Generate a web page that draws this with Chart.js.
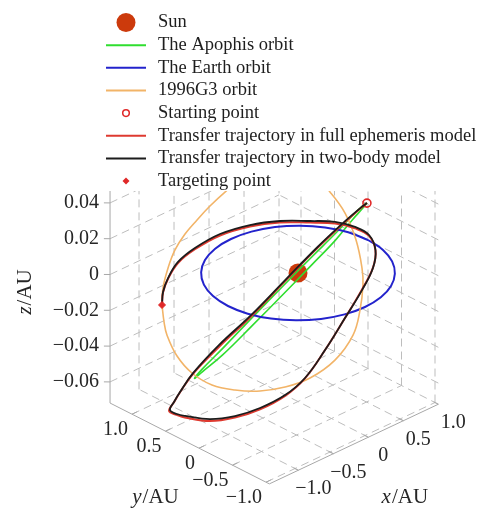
<!DOCTYPE html>
<html>
<head>
<meta charset="utf-8">
<script src="https://cdn.jsdelivr.net/npm/chart.js@4.4.0/dist/chart.umd.min.js"></script>
<style>
  body { margin: 0; background: #fff; }
  #wrap { width: 484px; height: 509px; }
</style>
</head>
<body>
<div id="wrap"><canvas id="orbitChart"></canvas></div>
<script>
// axis ranges and ticks (AU)
const xLim = [-1.414, 1.0]
const yLim = [-1.05, 1.328]
const zLim = [-0.0718, 0.047]
const xTicks = [-1, -0.5, 0, 0.5, 1]
const yTicks = [-1, -0.5, 0, 0.5, 1]
const zTicks = [-0.06, -0.04, -0.02, 0, 0.02, 0.04]
const xTickLabels = ['−1.0', '−0.5', '0', '0.5', '1.0']
const yTickLabels = ['−1.0', '−0.5', '0', '0.5', '1.0']
const zTickLabels = ['−0.06', '−0.04', '−0.02', '0', '0.02', '0.04']

const legendLabels = ['Sun', 'The Apophis orbit', 'The Earth orbit', '1996G3 orbit', 'Starting point',
    'Transfer trajectory in full ephemeris model', 'Transfer trajectory in two-body model', 'Targeting point']

// single points [x, y, z]
const sunPos = [0, 0, 0]
const startPos = [0.512, -0.494, 0.039]
const targetPos = [-1.108, 0.872, -0.014]

// Earth orbit
const earthX = [1, 0.966, 0.866, 0.707, 0.5, 0.259, 0, -0.259, -0.5, -0.707, -0.866, -0.966, -1, -0.966, -0.866, -0.707, -0.5, -0.259, 0, 0.259, 0.5, 0.707, 0.866, 0.966, 1]
const earthY = [0, 0.259, 0.5, 0.707, 0.866, 0.966, 1, 0.966, 0.866, 0.707, 0.5, 0.259, 0, -0.259, -0.5, -0.707, -0.866, -0.966, -1, -0.966, -0.866, -0.707, -0.5, -0.259, 0]
const earthZ = [0, 0, 0, 0, 0, 0, 0, 0, 0, 0, 0, 0, 0, 0, 0, 0, 0, 0, 0, 0, 0, 0, 0, 0, 0]

// Apophis orbit
const apophisX = [0.512, 0.657, 0.739, 0.746, 0.668, 0.495, 0.230, -0.105, -0.461, -0.768, -0.961, -1.006, -0.912, -0.716, -0.462, -0.188, 0.077, 0.315, 0.512]
const apophisY = [-0.494, -0.292, -0.052, 0.214, 0.485, 0.733, 0.921, 1.003, 0.945, 0.742, 0.428, 0.070, -0.262, -0.520, -0.684, -0.753, -0.736, -0.646, -0.494]
const apophisZ = [0.0391, 0.0313, 0.0199, 0.0045, -0.0123, -0.0300, -0.0465, -0.0588, -0.0630, -0.0588, -0.0458, -0.0284, -0.0079, 0.0109, 0.0259, 0.0360, 0.0425, 0.0430, 0.0391]

// 1996G3 orbit
const g3X = [-1.108, -0.877, -0.724, -0.577, -0.409, -0.240, -0.082, 0.079, 0.266, 0.460, 0.611, 0.697, 0.734, 0.732, 0.676, 0.567, 0.484, 0.302, 0.121, -0.187, -0.500, -0.750, -0.953, -1.116, -1.224, -1.273, -1.264, -1.204, -1.162, -1.108]
const g3Y = [0.872, 1.099, 1.183, 1.233, 1.259, 1.256, 1.228, 1.172, 1.068, 0.898, 0.684, 0.474, 0.290, 0.063, -0.160, -0.363, -0.464, -0.610, -0.695, -0.747, -0.702, -0.590, -0.429, -0.225, 0.005, 0.253, 0.485, 0.698, 0.785, 0.872]
const g3Z = [-0.0140, -0.0131, -0.0063, 0.0001, 0.0054, 0.0102, 0.0156, 0.0215, 0.0290, 0.0348, 0.0350, 0.0318, 0.0262, 0.0188, 0.0090, -0.0008, -0.0068, -0.0147, -0.0237, -0.0310, -0.0361, -0.0387, -0.0402, -0.0405, -0.0401, -0.0372, -0.0323, -0.0257, -0.0209, -0.0140]

// transfer trajectory, full ephemeris model
const ephemX = [0.512, 0.693, 0.763, 0.715, 0.553, 0.299, -0.019, -0.437, -0.780, -0.962, -1.100, -1.146, -1.192, -1.175, -1.092, -0.974, -0.822, -0.639, -0.386, -0.064, 0.235, 0.490, 0.681, 0.806, 0.854, 0.829, 0.746, 0.591, 0.368, 0.075, -0.250, -0.549, -0.796, -0.972, -1.108]
const ephemY = [-0.494, -0.214, 0.115, 0.455, 0.766, 1.009, 1.157, 1.110, 0.955, 0.852, 0.775, 0.613, 0.445, 0.087, -0.200, -0.451, -0.666, -0.772, -0.807, -0.768, -0.710, -0.607, -0.445, -0.218, 0.041, 0.314, 0.600, 0.887, 1.101, 1.242, 1.277, 1.217, 1.108, 0.999, 0.872]
const ephemZ = [0.0390, 0.0276, 0.0115, -0.0078, -0.0291, -0.0488, -0.0628, -0.0693, -0.0709, -0.0710, -0.0716, -0.0698, -0.0672, -0.0627, -0.0568, -0.0496, -0.0408, -0.0324, -0.0206, -0.0094, 0.0000, 0.0055, 0.0085, 0.0100, 0.0084, 0.0064, 0.0030, 0.0005, -0.0017, -0.0040, -0.0064, -0.0074, -0.0096, -0.0120, -0.0140]

// transfer trajectory, two-body model
const twoBodyX = [0.512, 0.693, 0.763, 0.715, 0.553, 0.299, -0.019, -0.437, -0.776, -0.959, -1.093, -1.144, -1.188, -1.175, -1.092, -0.974, -0.822, -0.639, -0.386, -0.064, 0.235, 0.490, 0.681, 0.806, 0.854, 0.829, 0.746, 0.591, 0.368, 0.075, -0.250, -0.549, -0.796, -0.972, -1.108]
const twoBodyY = [-0.494, -0.214, 0.115, 0.455, 0.766, 1.009, 1.157, 1.110, 0.950, 0.849, 0.769, 0.611, 0.445, 0.087, -0.200, -0.451, -0.666, -0.772, -0.807, -0.768, -0.710, -0.607, -0.445, -0.218, 0.041, 0.314, 0.600, 0.887, 1.101, 1.242, 1.277, 1.217, 1.108, 0.999, 0.872]
const twoBodyZ = [0.0390, 0.0278, 0.0120, -0.0073, -0.0286, -0.0481, -0.0618, -0.0690, -0.0702, -0.0705, -0.0710, -0.0693, -0.0664, -0.0616, -0.0560, -0.0489, -0.0404, -0.0322, -0.0206, -0.0094, -0.0004, 0.0053, 0.0087, 0.0105, 0.0092, 0.0073, 0.0039, 0.0013, -0.0009, -0.0032, -0.0057, -0.0068, -0.0092, -0.0117, -0.0140]

const colors = ['#cc3a0c', '#2fde2f', '#2323cc', '#f2b468', '#e02828', '#de3a30', '#1c1c1c', '#e02828']
const serif = '"Liberation Serif", "Times New Roman", serif'

// oblique 3-D view: AU -> chart units (1 unit = 1 px, Sun at 0,0)
function proj(x, y, z) {
    return { x: 70 * x - 67 * y, y: 33 * x + 34 * y + 1790 * z }
}

function curve(xs, ys, zs) {
    var pts = []
    for (var i = 0; i < xs.length; i++) {
        pts.push(proj(xs[i], ys[i], zs[i]))
    }
    return pts
}

// grid, axes and labels of the 3-D box, plus the legend on top
const boxPlugin = {
    id: 'box3d',
    beforeDatasetsDraw(chart) {
        const ctx = chart.ctx
        const sx = chart.scales.x, sy = chart.scales.y
        function px(x, y, z) {
            var p = proj(x, y, z)
            return [sx.getPixelForValue(p.x), sy.getPixelForValue(p.y)]
        }
        function seg(a, b) {
            var p1 = px(a[0], a[1], a[2]), p2 = px(b[0], b[1], b[2])
            ctx.beginPath()
            ctx.moveTo(p1[0], p1[1])
            ctx.lineTo(p2[0], p2[1])
            ctx.stroke()
        }
        var x0 = xLim[0], x1 = xLim[1], y0 = yLim[0], y1 = yLim[1], z0 = zLim[0], z1 = zLim[1]
        ctx.save()
        ctx.strokeStyle = '#bdbdbd'
        ctx.lineWidth = 1
        ctx.setLineDash([8, 5])
        // floor
        xTicks.forEach(t => seg([t, y0, z0], [t, y1, z0]))
        yTicks.forEach(t => seg([x0, t, z0], [x1, t, z0]))
        // back wall x = max
        yTicks.forEach(t => seg([x1, t, z0], [x1, t, z1]))
        zTicks.forEach(t => seg([x1, y0, t], [x1, y1, t]))
        // back wall y = max
        xTicks.forEach(t => seg([t, y1, z0], [t, y1, z1]))
        zTicks.forEach(t => seg([x0, y1, t], [x1, y1, t]))

        // axis lines and tick marks
        ctx.setLineDash([])
        ctx.strokeStyle = '#a8a8a8'
        seg([x0, y1, z0], [x0, y1, z1])
        seg([x0, y0, z0], [x0, y1, z0])
        seg([x0, y0, z0], [x1, y0, z0])
        xTicks.forEach(t => seg([t, y0, z0], [t, y0 + 0.07, z0]))
        yTicks.forEach(t => seg([x0, t, z0], [x0 + 0.07, t, z0]))
        zTicks.forEach(t => seg([x0, y1, t], [x0 - 0.045, y1 + 0.045, t]))

        // tick labels
        ctx.fillStyle = '#262626'
        ctx.font = '20px ' + serif
        ctx.textBaseline = 'middle'
        ctx.textAlign = 'right'
        zTicks.forEach(function (t, i) {
            var p = px(x0, y1, t)
            ctx.fillText(zTickLabels[i], p[0] - 11, p[1])
        })
        yTicks.forEach(function (t, i) {
            var p = px(x0, t, z0)
            ctx.fillText(yTickLabels[i], p[0] - 4, p[1] + 16)
        })
        ctx.textAlign = 'center'
        xTicks.forEach(function (t, i) {
            var p = px(t, y0, z0)
            ctx.fillText(xTickLabels[i], p[0] + 15, p[1] + 19)
        })

        // axis titles: italic variable + /AU
        function title(v, cx, cy, rot) {
            ctx.save()
            ctx.translate(cx, cy)
            ctx.rotate(rot)
            ctx.textAlign = 'left'
            ctx.font = 'italic 21px ' + serif
            var w1 = ctx.measureText(v).width
            ctx.font = '21px ' + serif
            var w2 = ctx.measureText('/AU').width
            var left = -(w1 + w2) / 2
            ctx.font = 'italic 21px ' + serif
            ctx.fillText(v, left, 0)
            ctx.font = '21px ' + serif
            ctx.fillText('/AU', left + w1 + 1, 0)
            ctx.restore()
        }
        var px0 = px(0, y0, z0), py0 = px(x0, 0, z0), pz0 = px(x0, y1, -0.01)
        title('x', px0[0] + 36, px0[1] + 60, 0)
        title('y', py0[0] - 44, py0[1] + 49, 0)
        title('z', pz0[0] - 85, pz0[1], -Math.PI / 2)
        ctx.restore()
    },
    afterDraw(chart) {
        const ctx = chart.ctx
        ctx.save()
        ctx.fillStyle = '#fff'
        ctx.fillRect(96, 0, 388, 191)
        for (var i = 0; i < legendLabels.length; i++) {
            var cy = 22.5 + i * 22.65
            ctx.strokeStyle = colors[i]
            ctx.fillStyle = colors[i]
            if (i == 0) {
                ctx.beginPath()
                ctx.arc(126, cy, 9.5, 0, Math.PI * 2)
                ctx.fill()
            } else if (i == 4) {
                ctx.lineWidth = 1.5
                ctx.beginPath()
                ctx.arc(126, cy, 3.3, 0, Math.PI * 2)
                ctx.stroke()
            } else if (i == 7) {
                ctx.beginPath()
                ctx.moveTo(126, cy - 3.5)
                ctx.lineTo(129.5, cy)
                ctx.lineTo(126, cy + 3.5)
                ctx.lineTo(122.5, cy)
                ctx.closePath()
                ctx.fill()
            } else {
                ctx.lineWidth = 2
                ctx.beginPath()
                ctx.moveTo(106, cy)
                ctx.lineTo(146, cy)
                ctx.stroke()
            }
            ctx.fillStyle = '#1e1e1e'
            ctx.font = '18.5px ' + serif
            ctx.textBaseline = 'middle'
            ctx.textAlign = 'left'
            ctx.fillText(legendLabels[i], 158, cy)
        }
        ctx.restore()
    }
}

function lineSet(i, pts, width, order) {
    return {
        label: legendLabels[i], data: pts, showLine: true, borderColor: colors[i],
        backgroundColor: colors[i], borderWidth: width, pointRadius: 0, tension: 0.4, order: order
    }
}

const ctx = document.getElementById('orbitChart')
new Chart(ctx, {
    type: 'scatter',
    data: {
        datasets: [
            { label: legendLabels[0], data: [proj(sunPos[0], sunPos[1], sunPos[2])], pointRadius: 9.5,
              backgroundColor: colors[0], borderWidth: 0, order: 7 },
            lineSet(1, curve(apophisX, apophisY, apophisZ), 1.6, 6),
            lineSet(2, curve(earthX, earthY, earthZ), 2, 5),
            lineSet(3, curve(g3X, g3Y, g3Z), 1.6, 4),
            { label: legendLabels[4], data: [proj(startPos[0], startPos[1], startPos[2])], pointRadius: 4,
              backgroundColor: 'rgba(0,0,0,0)', borderColor: colors[4], borderWidth: 1.6, order: 3 },
            lineSet(5, curve(ephemX, ephemY, ephemZ), 2, 2),
            lineSet(6, curve(twoBodyX, twoBodyY, twoBodyZ), 1.8, 1),
            { label: legendLabels[7], data: [proj(targetPos[0], targetPos[1], targetPos[2])], pointRadius: 3.5,
              pointStyle: 'rectRot', backgroundColor: colors[7], borderColor: colors[7], borderWidth: 1, order: 0 }
        ]
    },
    options: {
        responsive: true,
        maintainAspectRatio: false,
        animation: false,
        // keep the plot area on the whole canvas so 1 chart unit = 1 px
        layout: { padding: 0, autoPadding: false },
        plugins: { legend: { display: false }, tooltip: { enabled: false } },
        scales: {
            x: { type: 'linear', min: -298, max: 186, display: false },
            y: { type: 'linear', min: -236, max: 273, display: false }
        }
    },
    plugins: [boxPlugin]
})
</script>
</body>
</html>
